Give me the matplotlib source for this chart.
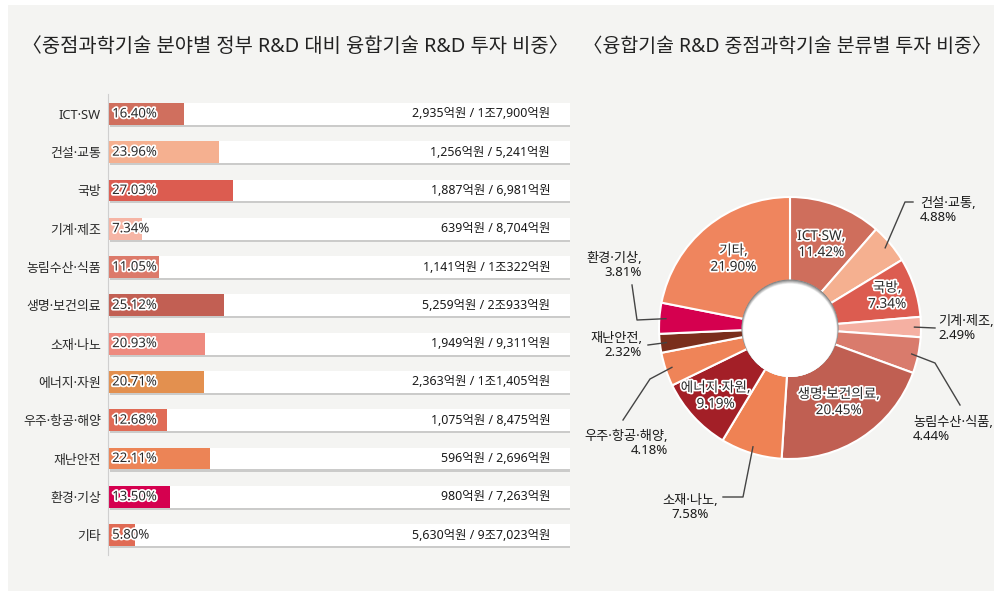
import numpy as np
import matplotlib
matplotlib.use("Agg")
import matplotlib.pyplot as plt
import matplotlib.patheffects as pe
from matplotlib.patches import Rectangle, Circle

# Latin, digits and the middle dot from Noto Sans, Hangul from the CJK font
plt.rcParams['font.family'] = ['Noto Sans', 'Noto Sans CJK KR', 'DejaVu Sans']

# ---- data: left bar chart ----
bar_cats = ['ICT·SW', '건설·교통', '국방', '기계·제조', '농림수산·식품', '생명·보건의료',
            '소재·나노', '에너지·자원', '우주·항공·해양', '재난안전', '환경·기상', '기타']
bar_pct = [16.40, 23.96, 27.03, 7.34, 11.05, 25.12, 20.93, 20.71, 12.68, 22.11, 13.50, 5.80]
bar_amounts = ['2,935억원 / 1조7,900억원', '1,256억원 / 5,241억원', '1,887억원 / 6,981억원',
               '639억원 / 8,704억원', '1,141억원 / 1조322억원', '5,259억원 / 2조933억원',
               '1,949억원 / 9,311억원', '2,363억원 / 1조1,405억원', '1,075억원 / 8,475억원',
               '596억원 / 2,696억원', '980억원 / 7,263억원', '5,630억원 / 9조7,023억원']
bar_colors = ['#d06f5e', '#f5b090', '#dc5c50', '#f6b5a5', '#dc7a6a', '#c25f53',
              '#ee8a7f', '#e3904f', '#e06b56', '#ec8456', '#d5004f', '#e06b55']

# ---- data: right donut chart ----
pie_cats = ['ICT·SW', '건설·교통', '국방', '기계·제조', '농림수산·식품', '생명·보건의료',
            '소재·나노', '에너지·자원', '우주·항공·해양', '재난안전', '환경·기상', '기타']
pie_pct = [11.42, 4.88, 7.34, 2.49, 4.44, 20.45, 7.58, 9.19, 4.18, 2.32, 3.81, 21.90]
pie_colors = ['#cf6e5c', '#f5b090', '#dc5c50', '#f5b0a2', '#d97b6c', '#c05f52',
              '#ef8254', '#a31f27', '#ef8458', '#7a2e1c', '#d5004f', '#ef855e']

W, H = 995, 591
fig = plt.figure(figsize=(W / 100, H / 100), dpi=100)
fig.patch.set_facecolor('white')
fig.patches.append(Rectangle((8 / W, 0), 1 - 8 / W, 1 - 5 / H, transform=fig.transFigure,
                             facecolor='#f4f4f2', edgecolor='none', zorder=-5))

halo = [pe.withStroke(linewidth=2.5, foreground='white')]
txt = '#2a2a2a'

# titles
fig.text(295 / W, 1 - 47 / H, '〈중점과학기술 분야별 정부 R&D 대비 융합기술 R&D 투자 비중〉',
         ha='center', va='center', fontsize=14.3, color='#222222')
fig.text(787 / W, 1 - 47 / H, '〈융합기술 R&D 중점과학기술 분류별 투자 비중〉',
         ha='center', va='center', fontsize=14, color='#222222')

# ---- bar chart ----
ax = fig.add_axes([108 / W, 1 - 555 / H, 462 / W, 461 / H])
ax.set_facecolor('none')
y = np.arange(len(bar_cats))
shadow = [pe.SimplePatchShadow(offset=(1.5, -1.5), shadow_rgbFace='#b0b0b0', alpha=0.6), pe.Normal()]
ax.barh(y, [100] * len(y), height=0.57, color='white', path_effects=shadow, zorder=1)
ax.barh(y, bar_pct, height=0.57, color=bar_colors, zorder=2)
for i in range(len(y)):
    ax.text(0.9, y[i], f'{bar_pct[i]:.2f}%', ha='left', va='center', fontsize=9.5,
            color=txt, path_effects=halo, zorder=3)
    ax.text(95.7, y[i], bar_amounts[i], ha='right', va='center', fontsize=8.9,
            color='#1a1a1a', zorder=3)
ax.set_xlim(0, 100)
ax.set_ylim(11.52, -0.52)
ax.set_yticks(y)
ax.set_yticklabels(bar_cats, fontsize=9.3, color=txt)
ax.tick_params(axis='y', length=0, pad=5)
ax.set_xticks([])
for s in ['top', 'right', 'bottom']:
    ax.spines[s].set_visible(False)
ax.spines['left'].set_color('#cfcfcf')

# ---- donut chart ----
R = 131.0
CX, CY = 790, 328
half = 200
pax = fig.add_axes([(CX - half) / W, 1 - (CY + half) / H, 2 * half / W, 2 * half / H])
pax.axis('off')


def px(x, yy):
    return (x - CX) / R, (CY - yy) / R


wedges, _ = pax.pie(pie_pct, colors=pie_colors, startangle=90, counterclock=False,
                    radius=1.0, wedgeprops=dict(width=0.64, edgecolor='white', linewidth=1.5))
pax.set_xlim(-half / R, half / R)
pax.set_ylim(-half / R, half / R)
pax.set_aspect('equal')

# hole with soft inner shadow
pax.add_patch(Circle((0, 0), 0.37, facecolor='#7d7d7d', edgecolor='none', zorder=5))
for k in range(8):
    f = (k + 1) / 8
    c = 0.49 + 0.51 * f
    pax.add_patch(Circle((0, -0.018 * f), 0.37 - 0.014 * f,
                         facecolor=(c, c, c), edgecolor='none', zorder=5 + k * 0.01))
pax.add_patch(Circle((0, -0.02), 0.35, facecolor='white', edgecolor='none', zorder=6))

cum = np.cumsum([0] + pie_pct)
mid_ang = [np.deg2rad(90 - 3.6 * (cum[i] + cum[i + 1]) / 2) for i in range(len(pie_pct))]

# labels inside the ring: index -> radius
inner = {0: 0.68, 2: 0.78, 5: 0.68, 7: 0.77, 11: 0.68}
for i, r in inner.items():
    a = mid_ang[i]
    pax.text(r * np.cos(a), r * np.sin(a), f'{pie_cats[i]},\n{pie_pct[i]:.2f}%',
             ha='center', va='center', fontsize=9.8, color=txt, linespacing=1.1,
             path_effects=halo, zorder=8)

# labels outside: index -> (text x, text y, ha, leader points in pixels)
outer = {
    1: (920, 210, 'left', [(905, 202), (913, 202)]),
    3: (938, 328, 'left', [(935, 328)]),
    4: (913, 429, 'left', [(935, 363), (960, 405)]),
    6: (690, 508, 'center', [(743, 497), (723, 497)]),
    8: (668, 443, 'right', [(650, 379), (623, 420)]),
    9: (642, 345, 'right', [(648, 345)]),
    10: (642, 265, 'right', [(637, 320), (632, 285)]),
}
for i, (tx, ty, ha, pts) in outer.items():
    a = mid_ang[i]
    xs = [0.95 * np.cos(a)] + [px(p[0], p[1])[0] for p in pts]
    ys = [0.95 * np.sin(a)] + [px(p[0], p[1])[1] for p in pts]
    pax.plot(xs, ys, color='#444444', lw=1, zorder=9, clip_on=False)
    lx, ly = px(tx, ty)
    pax.text(lx, ly, f'{pie_cats[i]},\n{pie_pct[i]:.2f}%', ha=ha, va='center',
             multialignment=ha, fontsize=9.5, color='#1a1a1a', linespacing=1.1, zorder=9)

fig.savefig('out.png', dpi=100, facecolor=fig.get_facecolor())
